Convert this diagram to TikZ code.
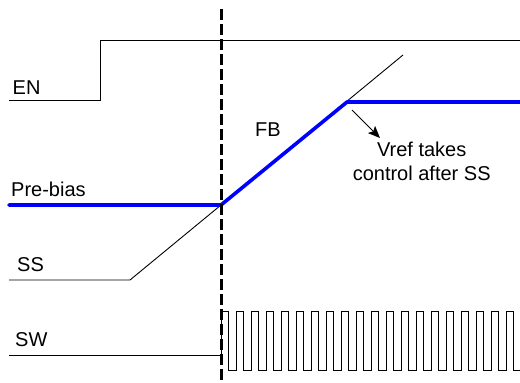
\documentclass[tikz,border=0pt]{standalone}
\usepackage{fontspec}
\setmainfont{Liberation Sans}
\usetikzlibrary{arrows.meta}

\tikzset{
	signal/.style={line width=0.9pt},
	fbline/.style={line width=3.6pt, blue, line cap=round, line join=round},
	marker/.style={line width=3pt, dash pattern=on 11pt off 4pt},
	signame/.style={font=\fontsize{20}{24}\selectfont, inner sep=0pt, anchor=base west},
	vrefarrow/.style={-{Stealth[length=12pt,width=10pt,inset=2.5pt]}, line width=0.9pt}
}

\begin{document}
\begin{tikzpicture}[x=1pt,y=-1pt]
	\useasboundingbox (0,0) rectangle (520,383);
	% signal names
	\node[signame] (en) at (12.5,94) {EN};
	\node[signame] (prebias) at (11,196.5) {Pre-bias};
	\node[signame] (ss) at (17,271.5) {SS};
	\node[signame] (sw) at (15,346.5) {SW};
	\node[signame] (fb) at (255,136.5) {FB};
	\node[signame, align=center, anchor=base] (vref) at (421.7,180) {Vref takes\\control after SS};
	% EN
	\coordinate (en start) at (9,100);
	\coordinate (en rise) at (100,100);
	\coordinate (en high) at (100,40);
	\coordinate (en end) at (520,40);
	\draw[signal] (en start) -- (en rise) -- (en high) -- (en end);
	% SS ramp
	\coordinate (ss start) at (9,280);
	\coordinate (ss rise) at (130,280);
	\coordinate (ss end) at (403,55);
	\draw[signal] (ss start) -- (ss rise) -- (ss end);
	% FB with pre-bias
	\coordinate (fb start) at (9,205);
	\coordinate (fb meet) at (221,205);
	\coordinate (fb knee) at (347,102);
	\coordinate (fb end) at (522,102);
	\draw[fbline] (fb start) -- (fb meet) -- (fb knee) -- (fb end);
	% SW
	\coordinate (sw start) at (9,355);
	\coordinate (sw on) at (221,355);
	\draw[signal] (sw start) -- (sw on)
		\foreach \k in {0,...,19} {
			-- (221+15*\k,311) -- (228.5+15*\k,311) -- (228.5+15*\k,370) -- (236+15*\k,370)
		};
	% soft-start done
	\coordinate (arrow start) at (352,110);
	\coordinate (arrow end) at (380,138);
	\draw[vrefarrow] (arrow start) -- (arrow end);
	% time marker
	\coordinate (mark top) at (221,9);
	\coordinate (mark bottom) at (221,383);
	\draw[marker] (mark top) -- (mark bottom);
\end{tikzpicture}
\end{document}
